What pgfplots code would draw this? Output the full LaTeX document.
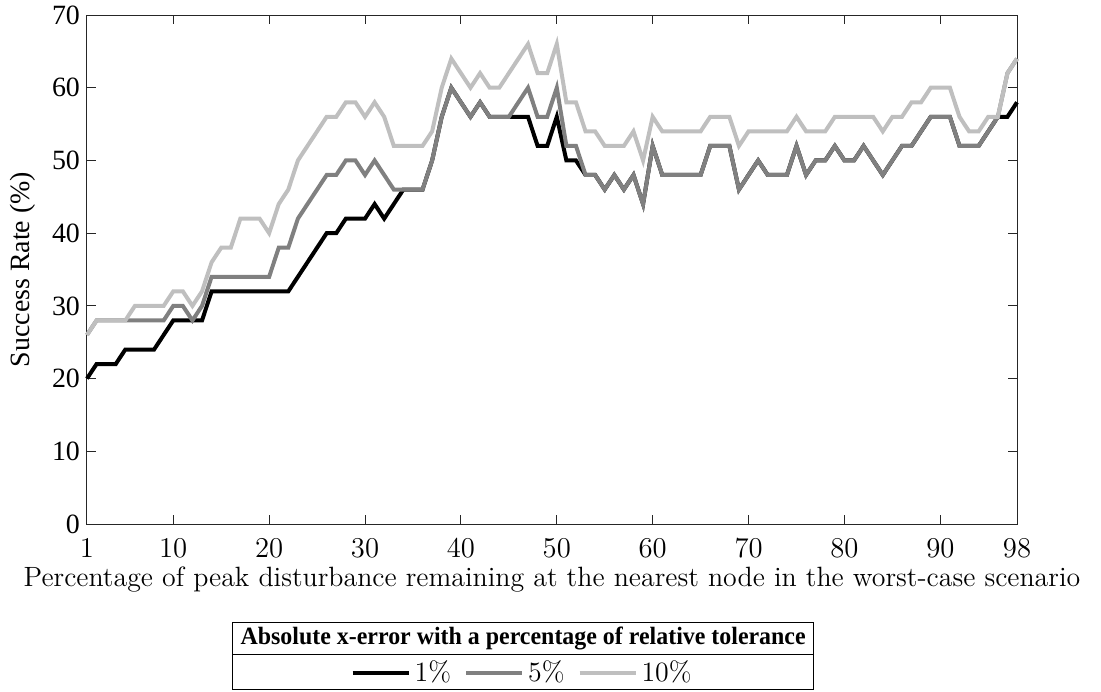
\documentclass[border=0pt]{standalone}
\usepackage{fontspec}
\newfontfamily\timesfont{Liberation Serif}
\usepackage{graphicx}
\usepackage{pgfplots}
\pgfplotsset{compat=1.18}
\usepackage{pgfplotstable}

% Success rate (%) for each tolerance level, x = percentage of peak disturbance
\pgfplotstableread{
x tolA tolB tolC
1 20 26 26
2 22 28 28
3 22 28 28
4 22 28 28
5 24 28 28
6 24 28 30
7 24 28 30
8 24 28 30
9 26 28 30
10 28 30 32
11 28 30 32
12 28 28 30
13 28 30 32
14 32 34 36
15 32 34 38
16 32 34 38
17 32 34 42
18 32 34 42
19 32 34 42
20 32 34 40
21 32 38 44
22 32 38 46
23 34 42 50
24 36 44 52
25 38 46 54
26 40 48 56
27 40 48 56
28 42 50 58
29 42 50 58
30 42 48 56
31 44 50 58
32 42 48 56
33 44 46 52
34 46 46 52
35 46 46 52
36 46 46 52
37 50 50 54
38 56 56 60
39 60 60 64
40 58 58 62
41 56 56 60
42 58 58 62
43 56 56 60
44 56 56 60
45 56 56 62
46 56 58 64
47 56 60 66
48 52 56 62
49 52 56 62
50 56 60 66
51 50 52 58
52 50 52 58
53 48 48 54
54 48 48 54
55 46 46 52
56 48 48 52
57 46 46 52
58 48 48 54
59 44 44 50
60 52 52 56
61 48 48 54
62 48 48 54
63 48 48 54
64 48 48 54
65 48 48 54
66 52 52 56
67 52 52 56
68 52 52 56
69 46 46 52
70 48 48 54
71 50 50 54
72 48 48 54
73 48 48 54
74 48 48 54
75 52 52 56
76 48 48 54
77 50 50 54
78 50 50 54
79 52 52 56
80 50 50 56
81 50 50 56
82 52 52 56
83 50 50 56
84 48 48 54
85 50 50 56
86 52 52 56
87 52 52 58
88 54 54 58
89 56 56 60
90 56 56 60
91 56 56 60
92 52 52 56
93 52 52 54
94 52 52 54
95 54 54 56
96 56 56 56
97 56 62 62
98 58 64 64
}\successdata

\definecolor{axisgray}{RGB}{38,38,38}
\definecolor{midgray}{RGB}{128,128,128}
\definecolor{lightgray}{RGB}{191,191,191}

\begin{document}
\begin{tikzpicture}
\begin{axis}[
  scale only axis,
  width=465bp, height=254.5bp,
  xmin=1, xmax=98, ymin=0, ymax=70,
  xtick={1,10,20,30,40,50,60,70,80,90,98},
  ytick={0,10,...,70},
  yticklabels={0,10,20,30,40,50,60,70},
  tick align=inside,
  major tick length=4.5bp,
  axis line style={axisgray, line width=0.5bp},
  every tick/.style={axisgray, line width=0.5bp},
  font=\fontsize{14}{17}\selectfont,
  xticklabel style={font=\fontsize{14}{17}\selectfont, yshift=-4bp},
  yticklabel style={font=\fontsize{14}{17}\selectfont\timesfont},
  xlabel={Percentage of peak disturbance remaining at the nearest node in the worst-case scenario},
  ylabel={Success Rate (\%)},
  xlabel style={font=\fontsize{14}{17}\selectfont, yshift=2bp},
  ylabel style={font=\fontsize{14}{17}\selectfont\timesfont, yshift=1.5bp},
  clip=false,
  legend columns=3,
  legend style={draw=none, fill=none, at={(0.469,-0.292)}, anchor=center,
    font=\fontsize{14}{17}\selectfont,
    /tikz/every even column/.append style={column sep=4.5bp}},
  legend image code/.code={\draw[#1] (0bp,0bp) -- (28bp,0bp);},
]
\addplot[black, line width=2bp] table[x=x, y=tolA] {\successdata};
\addlegendentry{1\%}
\addplot[midgray, line width=2bp] table[x=x, y=tolB] {\successdata};
\addlegendentry{5\%}
\addplot[lightgray, line width=2bp] table[x=x, y=tolC] {\successdata};
\addlegendentry{10\%}

% frame and title of the legend
\draw[black, line width=0.5bp] (axis description cs:0.157,-0.1925) rectangle (axis description cs:0.781,-0.326);
\draw[black, line width=0.5bp] (axis description cs:0.157,-0.257) -- (axis description cs:0.781,-0.257);
\node[font=\fontsize{12.5}{15}\selectfont\timesfont\bfseries] at (axis description cs:0.469,-0.225)
  {\scalebox{0.96}[1]{Absolute x-error with a percentage of relative tolerance}};

% extent of the whole figure
\coordinate (figSW) at (axis description cs:-0.0935,-0.328);
\coordinate (figNE) at (axis description cs:1.0903,1.0295);
\end{axis}
\pgfresetboundingbox
\path (figSW) rectangle (figNE);
\end{tikzpicture}
\end{document}
